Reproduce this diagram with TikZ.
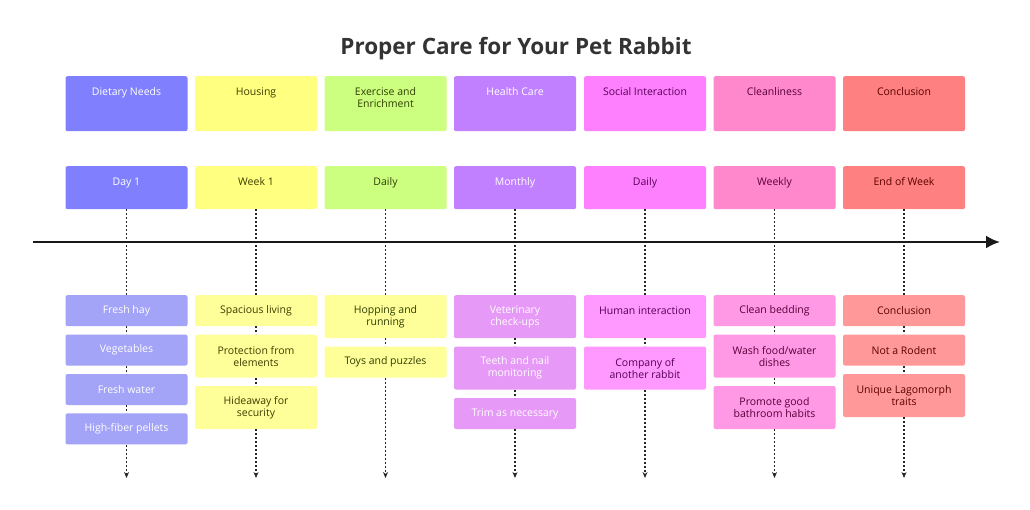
\documentclass[tikz,border=0pt]{standalone}
\usepackage{fontspec}
\setmainfont{Open Sans}
\usetikzlibrary{math,positioning,arrows.meta}
\definecolor{dietA}{HTML}{8080FF}
\definecolor{dietB}{HTML}{A3A3F7}
\definecolor{houseA}{HTML}{FFFF80}
\definecolor{houseB}{HTML}{FFFF99}
\definecolor{houseT}{HTML}{3D3D00}
\definecolor{exerA}{HTML}{CCFF80}
\definecolor{exerB}{HTML}{FFFF99}
\definecolor{exerT}{HTML}{2E3D00}
\definecolor{healthA}{HTML}{C080FF}
\definecolor{healthB}{HTML}{E699F7}
\definecolor{socialA}{HTML}{FF80FF}
\definecolor{socialB}{HTML}{FF99FF}
\definecolor{socialT}{HTML}{570057}
\definecolor{cleanA}{HTML}{FF88CC}
\definecolor{cleanB}{HTML}{FF99E6}
\definecolor{cleanT}{HTML}{570038}
\definecolor{endA}{HTML}{FF8080}
\definecolor{endB}{HTML}{FF9999}
\definecolor{endT}{HTML}{5C0000}

\begin{document}
\begin{tikzpicture}[x=1pt,y=-1pt,node distance=8pt,
    box/.style={rounded corners=2pt,minimum width=122pt,inner sep=2pt,align=center,font=\fontsize{10.5}{12}\selectfont},
    headbox/.style={box,minimum height=55pt,anchor=north},
    timebox/.style={box,minimum height=43pt,anchor=north},
    itembox/.style={box,minimum height=31pt},
    tallbox/.style={box,minimum height=43pt},
    headtext/.style={anchor=north,inner sep=0pt,yshift=-11.5pt,align=center,font=\fontsize{10.5}{12}\selectfont},
    dotline/.style={line width=1.4pt,dash pattern=on 2pt off 2pt,color=black!85},
    timeline/.style={line width=2.4pt,color=black!90,-{Latex[length=14pt,width=13pt]}}]
  \useasboundingbox[fill=white] (0,0) rectangle (1030,510);
  \tikzmath{\xa = 126.5; \xb = 256; \xc = 385.5; \xd = 515; \xe = 645; \xf = 774.5; \xg = 904; \rowtop = 295; \rowend = 478;}
  \node[font=\fontsize{22.5}{26}\selectfont\bfseries, text=black!80] (title) at (516,49) {Proper Care for Your Pet Rabbit};

  \node[headbox, fill=dietA] (dietH) at (\xa,76) {};
  \node[headtext, text=white] (dietHT) at (dietH.north) {Dietary Needs};
  \node[headbox, fill=houseA] (houseH) at (\xb,76) {};
  \node[headtext, text=houseT] (houseHT) at (houseH.north) {Housing};
  \node[headbox, fill=exerA] (exerH) at (\xc,76) {};
  \node[headtext, text=exerT] (exerHT) at (exerH.north) {Exercise and\\Enrichment};
  \node[headbox, fill=healthA] (healthH) at (\xd,76) {};
  \node[headtext, text=white] (healthHT) at (healthH.north) {Health Care};
  \node[headbox, fill=socialA] (socialH) at (\xe,76) {};
  \node[headtext, text=socialT] (socialHT) at (socialH.north) {Social Interaction};
  \node[headbox, fill=cleanA] (cleanH) at (\xf,76) {};
  \node[headtext, text=cleanT] (cleanHT) at (cleanH.north) {Cleanliness};
  \node[headbox, fill=endA] (endH) at (\xg,76) {};
  \node[headtext, text=endT] (endHT) at (endH.north) {Conclusion};

  \node[timebox, fill=dietA] (dietT) at (\xa,166) {};
  \node[headtext, text=white] (dietTT) at (dietT.north) {Day 1};
  \node[timebox, fill=houseA] (houseT) at (\xb,166) {};
  \node[headtext, text=houseT] (houseTT) at (houseT.north) {Week 1};
  \node[timebox, fill=exerA] (exerT) at (\xc,166) {};
  \node[headtext, text=exerT] (exerTT) at (exerT.north) {Daily};
  \node[timebox, fill=healthA] (healthT) at (\xd,166) {};
  \node[headtext, text=white] (healthTT) at (healthT.north) {Monthly};
  \node[timebox, fill=socialA] (socialT) at (\xe,166) {};
  \node[headtext, text=socialT] (socialTT) at (socialT.north) {Daily};
  \node[timebox, fill=cleanA] (cleanT) at (\xf,166) {};
  \node[headtext, text=cleanT] (cleanTT) at (cleanT.north) {Weekly};
  \node[timebox, fill=endA] (endT) at (\xg,166) {};
  \node[headtext, text=endT] (endTT) at (endT.north) {End of Week};

  \node[itembox, fill=dietB, text=white, anchor=north] (diet1) at (\xa,\rowtop) {Fresh hay};
  \node[itembox, fill=dietB, text=white, below=of diet1] (diet2) {Vegetables};
  \node[itembox, fill=dietB, text=white, below=of diet2] (diet3) {Fresh water};
  \node[itembox, fill=dietB, text=white, below=of diet3] (diet4) {High-fiber pellets};

  \node[itembox, fill=houseB, text=houseT, anchor=north] (house1) at (\xb,\rowtop) {Spacious living};
  \node[tallbox, fill=houseB, text=houseT, below=of house1] (house2) {Protection from\\elements};
  \node[tallbox, fill=houseB, text=houseT, below=of house2] (house3) {Hideaway for\\security};

  \node[tallbox, fill=exerB, text=exerT, anchor=north] (exer1) at (\xc,\rowtop) {Hopping and\\running};
  \node[itembox, fill=exerB, text=exerT, below=of exer1] (exer2) {Toys and puzzles};

  \node[tallbox, fill=healthB, text=white, anchor=north] (health1) at (\xd,\rowtop) {Veterinary\\check-ups};
  \node[tallbox, fill=healthB, text=white, below=of health1] (health2) {Teeth and nail\\monitoring};
  \node[itembox, fill=healthB, text=white, below=of health2] (health3) {Trim as necessary};

  \node[tallbox, fill=socialB, text=socialT, anchor=north] (social1) at (\xe,\rowtop) {Human interaction\\~};
  \node[tallbox, fill=socialB, text=socialT, below=of social1] (social2) {Company of\\another rabbit};

  \node[itembox, fill=cleanB, text=cleanT, anchor=north] (clean1) at (\xf,\rowtop) {Clean bedding};
  \node[tallbox, fill=cleanB, text=cleanT, below=of clean1] (clean2) {Wash food/water\\dishes};
  \node[tallbox, fill=cleanB, text=cleanT, below=of clean2] (clean3) {Promote good\\bathroom habits};

  \node[itembox, fill=endB, text=endT, anchor=north] (end1) at (\xg,\rowtop) {Conclusion};
  \node[itembox, fill=endB, text=endT, below=of end1] (end2) {Not a Rodent};
  \node[tallbox, fill=endB, text=endT, below=of end2] (end3) {Unique Lagomorph\\traits};

  \coordinate (dietE) at (\xa,\rowend);
  \coordinate (houseE) at (\xb,\rowend);
  \coordinate (exerE) at (\xc,\rowend);
  \coordinate (healthE) at (\xd,\rowend);
  \coordinate (socialE) at (\xe,\rowend);
  \coordinate (cleanE) at (\xf,\rowend);
  \coordinate (endE) at (\xg,\rowend);

  \draw[dotline] (dietT) -- (diet1) -- (diet2) -- (diet3) -- (diet4);
  \draw[dotline, -{Stealth[length=6pt,width=5pt]}] (diet4) -- (dietE);
  \draw[dotline] (houseT) -- (house1) -- (house2) -- (house3);
  \draw[dotline, -{Stealth[length=6pt,width=5pt]}] (house3) -- (houseE);
  \draw[dotline] (exerT) -- (exer1) -- (exer2);
  \draw[dotline, -{Stealth[length=6pt,width=5pt]}] (exer2) -- (exerE);
  \draw[dotline] (healthT) -- (health1) -- (health2) -- (health3);
  \draw[dotline, -{Stealth[length=6pt,width=5pt]}] (health3) -- (healthE);
  \draw[dotline] (socialT) -- (social1) -- (social2);
  \draw[dotline, -{Stealth[length=6pt,width=5pt]}] (social2) -- (socialE);
  \draw[dotline] (cleanT) -- (clean1) -- (clean2) -- (clean3);
  \draw[dotline, -{Stealth[length=6pt,width=5pt]}] (clean3) -- (cleanE);
  \draw[dotline] (endT) -- (end1) -- (end2) -- (end3);
  \draw[dotline, -{Stealth[length=6pt,width=5pt]}] (end3) -- (endE);

  \coordinate (lineA) at (33,242);
  \coordinate (lineB) at (1000,242);
  \draw[timeline] (lineA) -- (lineB);
\end{tikzpicture}
\end{document}
